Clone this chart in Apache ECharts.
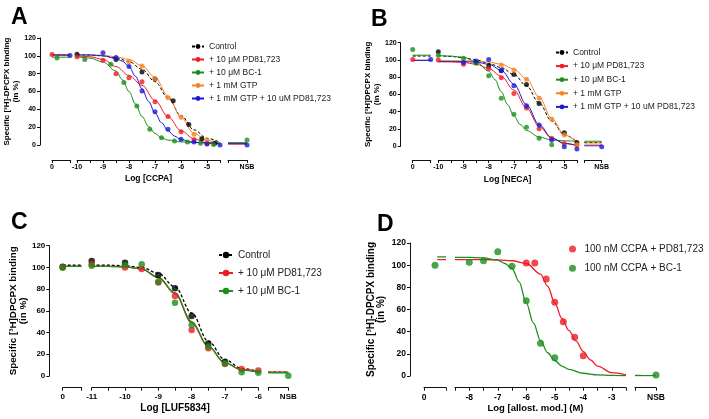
<!DOCTYPE html>
<html><head><meta charset="utf-8">
<script src="https://cdn.jsdelivr.net/npm/echarts@6/dist/echarts.min.js"></script>
<style>html,body{margin:0;padding:0;background:#fff}#c{width:709px;height:419px}</style>
</head><body><div id="c"></div>
<script>
// ---------------- DATA ----------------
// y tick labels (all panels)
const yTicks = [0, 20, 40, 60, 80, 100, 120];

// Panel A : Log [CCPA]
const aNames = ['Control', '+ 10 \u03bcM PD81,723', '+ 10 \u03bcM BC-1', '+ 1 mM GTP', '+ 1 mM GTP + 10 uM PD81,723'];
const aCtlPts = [[-10,101.7],[-8.5,96],[-7.5,82],[-7,74],[-6.3,49.5],[-5.7,23],[-5.2,7],[-4.7,2]];
const aPdPts  = [[-10,99],[-9,95],[-8.5,80],[-8,75.5],[-7.5,71],[-7,48.6],[-6.5,32],[-6,15],[-5.5,6],[-5,1]];
const aBcPts  = [[-9.7,96],[-8.7,90.5],[-8.2,70],[-7.7,43.7],[-7.2,17.6],[-6.75,8],[-6.25,4.5],[-5.75,3.5],[-5.25,2],[-4.75,0.5]];
const aGtpPts = [[-8,93.5],[-7.5,88.6],[-7,74],[-6.5,53],[-6,31],[-5.5,12],[-5,5.6]];
const aGpPts  = [[-9,103.5],[-8.5,98],[-8,88],[-7.5,60.5],[-7,37.4],[-6.5,17.6],[-6,6.5],[-5.5,3.5],[-5,1.5],[-4.5,0]];
const aCtlFit = [[-10,101],[-9.5,100.8],[-9,100],[-8.5,98],[-8,93.5],[-7.5,85],[-7,71],[-6.5,53],[-6,33],[-5.5,17],[-5,7.5],[-4.5,3]];
const aPdFit  = [[-10,100],[-9.5,99],[-9,96],[-8.5,88],[-8,78],[-7.5,67],[-7,50],[-6.5,32],[-6,16],[-5.5,7],[-5,2.5],[-4.5,1]];
const aBcFit  = [[-10,99],[-9.5,97.5],[-9,93],[-8.5,83],[-8.25,73],[-8,60],[-7.75,46],[-7.5,32],[-7.25,21],[-7,13],[-6.75,8],[-6.5,5.5],[-6,3.5],[-5.5,3],[-5,2.8],[-4.5,2.8]];
const aGtpFit = [[-10,101],[-9.5,101],[-9,100.5],[-8.5,99],[-8,96],[-7.5,89],[-7,76],[-6.5,55],[-6,31],[-5.5,13],[-5,5],[-4.5,2]];
const aGpFit  = [[-10,101],[-9.5,101],[-9,100],[-8.5,97],[-8.25,94],[-8,88],[-7.75,77],[-7.5,63],[-7.25,49],[-7,36],[-6.75,25],[-6.5,16],[-6.25,10],[-6,6],[-5.5,3],[-5,2],[-4.5,1.5]];
const aZeroPts = [[], [[0,101.5]], [[0.28,97.5]], [], [[1,100.5]]];
const aZeroLvl = [101, 100.5, 98.5, 101, 101];
const aNsbPts  = [[], [], [[1,5.6]], [], [[1,0]]];
const aNsbLvl  = [2.5, 1, 2.8, 2, 1.5];

// Panel B : Log [NECA]
const bNames = aNames;
const bCtlPts = [[-10,109.5],[-8.5,97],[-8,93],[-7.5,87.5],[-7,83],[-6.5,71.5],[-6,49.5],[-5,15.5],[-4.5,4]];
const bPdPts  = [[-10,100],[-9,95],[-8,90],[-7.5,79.4],[-7,61],[-6.5,44],[-6,20],[-5.5,9],[-5,3],[-4.5,1]];
const bBcPts  = [[-10,105.5],[-9,102],[-8.5,96],[-8,81.7],[-7.5,55.4],[-7,36.8],[-6.5,21.7],[-6,9],[-5.5,1.5]];
const bGtpPts = [[-7.5,94],[-7,88],[-6.5,77.4],[-6,55.4],[-5.5,31.4],[-5,12.8],[-4.5,1.5]];
const bGpPts  = [[-9,97],[-8.5,98.7],[-8,100.6],[-7.5,88],[-7,70],[-6.5,46.8],[-6,24.4],[-5.5,7],[-5,-1],[-4.5,-3.5]];
const bCtlFit = [[-10,105],[-9.5,104],[-9,102.5],[-8.5,100],[-8,96],[-7.5,91],[-7,83],[-6.5,70],[-6,50],[-5.5,29],[-5,13],[-4.5,5]];
const bPdFit  = [[-10,98],[-9.5,97.8],[-9,97],[-8.5,95],[-8,90],[-7.5,81],[-7,65],[-6.5,44],[-6,23],[-5.5,9],[-5,3],[-4.5,1]];
const bBcFit  = [[-10,105],[-9.5,104.5],[-9,103],[-8.5,98],[-8,87],[-7.75,77],[-7.5,63],[-7.25,48],[-7,35],[-6.75,25],[-6.5,18],[-6,10.5],[-5.5,7],[-5,6],[-4.5,5.5]];
const bGtpFit = [[-10,99.5],[-9,99],[-8.5,98.5],[-8,97.5],[-7.5,95],[-7,89.5],[-6.5,78],[-6,57],[-5.5,32],[-5,13],[-4.5,4]];
const bGpFit  = [[-10,98],[-9,98],[-8.5,97.5],[-8,95],[-7.5,88],[-7,72],[-6.5,48],[-6,25],[-5.5,9.5],[-5,3],[-4.5,0.5]];
const bZeroPts = [[], [[0,100.5]], [[0,112]], [], [[1,100.5]]];
const bZeroLvl = [104.5, 99.5, 105.5, 99.5, 99.5];
const bNsbPts  = [[], [], [], [], [[1,-1]]];
const bNsbLvl  = [4, 1, 5.5, 3.5, 0];

// Panel C : Log [LUF5834]
const cNames = ['Control', '+ 10 \u03bcM PD81,723', '+ 10 \u03bcM BC-1'];
const cCtlPts = [[-11,106],[-10,104.4],[-9,93],[-8.5,80.7],[-8,55.2],[-7.5,30],[-7,13.2]];
const cPdPts  = [[-11,103],[-10,100],[-9.5,98.5],[-9,86],[-8.5,73.7],[-8,42.4],[-7.5,25.5],[-7,11],[-6.5,6.5],[-6,5]];
const cBcPts  = [[-11,101.5],[-10,102],[-9.5,103],[-9,86.9],[-8.5,67.5],[-8,47],[-7.5,27],[-7,11.5],[-6.5,3.5],[-6,3]];
const cCtlFit = [[-11,102],[-10.5,102],[-10,101.5],[-9.5,100],[-9,94.5],[-8.5,82],[-8,58],[-7.5,32],[-7,15],[-6.5,7],[-6,4]];
const cPdFit  = [[-11,101],[-10.5,101],[-10,100.5],[-9.5,98.5],[-9,90.5],[-8.5,76],[-8,49],[-7.5,27],[-7,12],[-6.5,6],[-6,4]];
const cBcFit  = [[-11,101],[-10.5,101],[-10,100.5],[-9.5,98.5],[-9,91],[-8.5,76.5],[-8,50],[-7.5,27.5],[-7,12],[-6.5,5.5],[-6,3.5]];
const cZeroPts = [[[0,100.5]], [[0,100]], [[0,100]]];
const cZeroLvl = [102, 101, 101];
const cNsbPts  = [[], [], [[1,0.3]]];
const cNsbLvl  = [3.5, 3.5, 3];

// Panel D : Log [allost. mod.] (M)
const dNames = ['100 nM CCPA + PD81,723', '100 nM CCPA + BC-1'];
const dPdPts  = [[-6,102],[-5.7,102],[-5.3,87.5],[-5,66.5],[-4.7,49],[-4.3,35],[-4,18.3]];
const dBcPts  = [[-8,102.6],[-7.5,104],[-7,112],[-6.5,99],[-6,68],[-5.5,29.5],[-5,16.5]];
const dPdFit  = [[-8.5,105],[-7.5,105],[-7,104.8],[-6.5,104],[-6,101.5],[-5.5,92],[-5.25,81],[-5,66],[-4.75,52],[-4.5,41],[-4.25,31.5],[-4,22],[-3.75,14.5],[-3.5,9],[-3,3],[-2.5,1]];
const dBcFit  = [[-8.5,107],[-8,107],[-7.5,106.5],[-7,104.5],[-6.75,101.5],[-6.5,97],[-6.25,85],[-6,66],[-5.75,48],[-5.5,32],[-5.25,21],[-5,14],[-4.75,9],[-4.5,6],[-4,2.5],[-3.5,1],[-3,0.5],[-2.5,0.3]];
const dZeroPts = [[], [[0.5,100]]];
const dZeroLvl = [105, 107.5];
const dZeroFrom = 0.6;
const dNsbPts  = [[], [[1,0.9]]];
const dNsbLvl  = [0.5, 0.3];
const dNsbTo   = [0.3, 1];

// ---------------- STYLE / LAYOUT ----------------
const FONT = '"Liberation Sans", Arial, sans-serif';
const C_BLACK = '#000000', C_RED = '#ee1c24', C_GREEN = '#1b8e1b', C_ORANGE = '#f7821f', C_BLUE = '#1a1ad8';

const option = {
  animation: false,
  backgroundColor: '#ffffff',
  title: [], legend: [], grid: [], xAxis: [], yAxis: [], series: []
};

function axLine() { return {show: true, onZero: false, lineStyle: {color: '#111', width: 1, type: 'solid'}}; }
function axTick() { return {show: true, inside: false, length: 3, lineStyle: {color: '#111', width: 1, type: 'solid'}}; }

function addPanel(p) {
  const gi = option.grid.length;
  const segs = [p.seg0, p.segM, p.segN];
  segs.forEach(s => option.grid.push({left: s[0], width: s[1] - s[0], top: p.top, height: p.bottom - p.top}));
  for (let k = 0; k < 3; k++) {
    option.yAxis.push({
      type: 'value', gridIndex: gi + k, min: yTicks[0], max: yTicks[yTicks.length - 1], interval: yTicks[1] - yTicks[0],
      show: k === 0, position: 'left', offset: k === 0 ? p.seg0[0] - p.yAxisX : 0,
      axisLine: axLine(), axisTick: axTick(), splitLine: {show: false},
      axisLabel: {fontSize: p.tickFs, fontWeight: 'bold', color: '#000', margin: p.yLabelMargin, fontFamily: FONT},
      name: k === 0 ? p.yName : '', nameLocation: 'middle', nameRotate: 90, nameGap: p.yNameGap,
      nameTextStyle: {fontSize: p.yNameFs, fontWeight: 'bold', color: '#000', fontFamily: FONT, lineHeight: p.yNameLh}
    });
  }
  const xOff = p.xAxisY - p.bottom;
  const lbl = () => ({fontSize: p.tickFs, fontWeight: 'bold', color: '#000', margin: p.xLabelMargin, fontFamily: FONT, showMinLabel: true, showMaxLabel: true});
  option.xAxis.push({type: 'value', position: 'bottom', offset: xOff, axisLine: axLine(), axisTick: axTick(), splitLine: {show: false},
    gridIndex: gi, min: 0, max: 1, interval: 1,
    axisLabel: Object.assign(lbl(), {formatter: v => v === 0 ? '0' : ''})});
  option.xAxis.push({type: 'value', position: 'bottom', offset: xOff, axisLine: axLine(), axisTick: axTick(), splitLine: {show: false},
    gridIndex: gi + 1, min: p.xMin, max: p.xMax, interval: 0.5,
    axisLabel: Object.assign(lbl(), {formatter: v => Number.isInteger(v) ? String(v) : ''}),
    name: p.xName, nameLocation: 'middle', nameGap: p.xNameGap,
    nameTextStyle: {fontSize: p.xNameFs, fontWeight: 'bold', color: '#000', fontFamily: FONT, padding: p.xNamePad || 0}});
  option.xAxis.push({type: 'value', position: 'bottom', offset: xOff, axisLine: axLine(), axisTick: axTick(), splitLine: {show: false},
    gridIndex: gi + 2, min: 0, max: 1, interval: 1,
    axisLabel: Object.assign(lbl(), {formatter: v => v === 1 ? 'NSB' : ''})});

  option.title.push({text: p.letter, left: p.letterPos[0], top: p.letterPos[1], padding: 0,
    textStyle: {fontSize: 23, fontWeight: 'bold', color: '#000', fontFamily: FONT}});
  option.legend.push({orient: 'vertical', left: p.legend.left, top: p.legend.top, padding: 0,
    itemWidth: p.legend.w, itemHeight: p.legend.h, itemGap: p.legend.gap,
    textStyle: {fontSize: p.legend.fs, color: '#222', fontFamily: FONT, lineHeight: p.legend.lh},
    data: p.names, selectedMode: false});

  const lineW = p.lineW, sym = p.symSize;
  p.curves.forEach((c, i) => {
    const name = p.names[i];
    const lineStyle = () => ({color: c.color, width: lineW, type: c.dashed ? [3, 2] : 'solid'});
    if (p.dotLegend) {
      option.series.push({type: 'scatter', name: name, xAxisIndex: gi + 1, yAxisIndex: gi + 1, data: c.pts,
        symbol: 'circle', symbolSize: sym, itemStyle: {color: c.color}, z: 4, clip: false});
    }
    option.series.push({type: 'line', name: name, xAxisIndex: gi + 1, yAxisIndex: gi + 1, data: c.fit,
      smooth: 0.35, smoothMonotone: 'x', showSymbol: false, symbol: 'circle', symbolSize: sym,
      itemStyle: {color: c.color}, lineStyle: lineStyle(), z: 2 + i * 0.01, silent: true});
    if (!p.dotLegend) {
      option.series.push({type: 'scatter', name: name, xAxisIndex: gi + 1, yAxisIndex: gi + 1, data: c.pts,
        symbol: 'circle', symbolSize: sym, itemStyle: {color: c.color}, z: 4 + i * 0.01, clip: false});
    }
    const z0 = c.zeroFrom !== undefined ? c.zeroFrom : 0;
    option.series.push({type: 'line', name: name, xAxisIndex: gi, yAxisIndex: gi,
      data: [[z0, c.zeroLvl], [1, c.zeroLvl]], showSymbol: false, lineStyle: lineStyle(), itemStyle: {color: c.color}, z: 2 + i * 0.01});
    if (c.zeroPts.length) option.series.push({type: 'scatter', name: name, xAxisIndex: gi, yAxisIndex: gi, data: c.zeroPts,
      symbol: 'circle', symbolSize: sym, itemStyle: {color: c.color}, z: 4 + i * 0.01, clip: false});
    const nTo = c.nsbTo !== undefined ? c.nsbTo : 1;
    option.series.push({type: 'line', name: name, xAxisIndex: gi + 2, yAxisIndex: gi + 2,
      data: [[0, c.nsbLvl], [nTo, c.nsbLvl]], showSymbol: false, lineStyle: lineStyle(), itemStyle: {color: c.color}, z: 2 + i * 0.01});
    if (c.nsbPts.length) option.series.push({type: 'scatter', name: name, xAxisIndex: gi + 2, yAxisIndex: gi + 2, data: c.nsbPts,
      symbol: 'circle', symbolSize: sym, itemStyle: {color: c.color}, z: 4 + i * 0.01, clip: false});
  });
}

function mk(color, pts, fit, zp, zl, np, nl, dashed) {
  return {color: color, pts: pts, fit: fit, zeroPts: zp, zeroLvl: zl, nsbPts: np, nsbLvl: nl, dashed: !!dashed};
}

addPanel({
  letter: 'A', letterPos: [11, 6],
  top: 38, bottom: 145, yAxisX: 40, seg0: [52, 70], segM: [77, 220], segN: [228, 247], xAxisY: 160,
  xMin: -10, xMax: -4.5, tickFs: 7, yLabelMargin: 4, xLabelMargin: 4,
  yName: 'Specific [\u00b3H]-DPCPX binding\n(in %)', yNameFs: 8, yNameLh: 9, yNameGap: 17,
  xName: 'Log [CCPA]', xNameFs: 8.5, xNameGap: 14,
  legend: {left: 191, top: 41, w: 12, h: 6, gap: 2, fs: 8.5, lh: 11},
  names: aNames, lineW: 1, symSize: 5,
  curves: [
    mk(C_BLACK, aCtlPts, aCtlFit, aZeroPts[0], aZeroLvl[0], aNsbPts[0], aNsbLvl[0], true),
    mk(C_RED, aPdPts, aPdFit, aZeroPts[1], aZeroLvl[1], aNsbPts[1], aNsbLvl[1]),
    mk(C_GREEN, aBcPts, aBcFit, aZeroPts[2], aZeroLvl[2], aNsbPts[2], aNsbLvl[2]),
    mk(C_ORANGE, aGtpPts, aGtpFit, aZeroPts[3], aZeroLvl[3], aNsbPts[3], aNsbLvl[3]),
    mk(C_BLUE, aGpPts, aGpFit, aZeroPts[4], aZeroLvl[4], aNsbPts[4], aNsbLvl[4])
  ]
});

addPanel({
  letter: 'B', letterPos: [371, 8],
  top: 42.7, bottom: 146, yAxisX: 400.7, seg0: [412.7, 430.7], segM: [438.3, 576.9], segN: [584.3, 601.7], xAxisY: 160,
  xMin: -10, xMax: -4.5, tickFs: 7, yLabelMargin: 4, xLabelMargin: 4,
  yName: 'Specific [\u00b3H]DPCPX binding\n(in %)', yNameFs: 8, yNameLh: 9, yNameGap: 18,
  xName: 'Log [NECA]', xNameFs: 8.5, xNameGap: 15,
  legend: {left: 555, top: 47, w: 12, h: 6, gap: 2.6, fs: 8.5, lh: 11},
  names: bNames, lineW: 1, symSize: 5,
  curves: [
    mk(C_BLACK, bCtlPts, bCtlFit, bZeroPts[0], bZeroLvl[0], bNsbPts[0], bNsbLvl[0], true),
    mk(C_RED, bPdPts, bPdFit, bZeroPts[1], bZeroLvl[1], bNsbPts[1], bNsbLvl[1]),
    mk(C_GREEN, bBcPts, bBcFit, bZeroPts[2], bZeroLvl[2], bNsbPts[2], bNsbLvl[2]),
    mk(C_ORANGE, bGtpPts, bGtpFit, bZeroPts[3], bZeroLvl[3], bNsbPts[3], bNsbLvl[3]),
    mk(C_BLUE, bGpPts, bGpFit, bZeroPts[4], bZeroLvl[4], bNsbPts[4], bNsbLvl[4])
  ]
});

addPanel({
  letter: 'C', letterPos: [11, 211],
  top: 245.7, bottom: 376, yAxisX: 49.3, seg0: [62.7, 81.7], segM: [91.7, 258.3], segN: [268.3, 288.3], xAxisY: 387.7,
  xMin: -11, xMax: -6, tickFs: 8, yLabelMargin: 4, xLabelMargin: 5,
  yName: 'Specific [\u00b3H]DPCPX binding\n(in %)', yNameFs: 9.8, yNameLh: 10, yNameGap: 21,
  xName: 'Log [LUF5834]', xNameFs: 10, xNameGap: 16,
  legend: {left: 218, top: 249, w: 14, h: 8, gap: 6, fs: 10, lh: 12},
  names: cNames, lineW: 1.3, symSize: 6.5,
  curves: [
    mk(C_BLACK, cCtlPts, cCtlFit, cZeroPts[0], cZeroLvl[0], cNsbPts[0], cNsbLvl[0], true),
    mk(C_RED, cPdPts, cPdFit, cZeroPts[1], cZeroLvl[1], cNsbPts[1], cNsbLvl[1]),
    mk(C_GREEN, cBcPts, cBcFit, cZeroPts[2], cZeroLvl[2], cNsbPts[2], cNsbLvl[2])
  ]
});

const dCurves = [
  mk(C_RED, dPdPts, dPdFit, dZeroPts[0], dZeroLvl[0], dNsbPts[0], dNsbLvl[0]),
  mk(C_GREEN, dBcPts, dBcFit, dZeroPts[1], dZeroLvl[1], dNsbPts[1], dNsbLvl[1])
];
dCurves.forEach((c, i) => { c.zeroFrom = dZeroFrom; c.nsbTo = dNsbTo[i]; });
addPanel({
  letter: 'D', letterPos: [377, 213],
  top: 243, bottom: 376, yAxisX: 410, seg0: [424, 446], segM: [455, 626], segN: [635, 656], xAxisY: 387.7,
  xMin: -8.5, xMax: -2.5, tickFs: 8.5, yLabelMargin: 4, xLabelMargin: 5,
  yName: 'Specific [\u00b3H]-DPCPX binding\n(in %)', yNameFs: 10, yNameLh: 10, yNameGap: 24,
  xName: 'Log [allost. mod.] (M)', xNameFs: 9.5, xNameGap: 16, xNamePad: [0, 10, 0, 0],
  legend: {left: 569, top: 242.5, w: 14, h: 7, gap: 6.3, fs: 10, lh: 13},
  names: dNames, lineW: 1.3, symSize: 7, dotLegend: true,
  curves: dCurves
});

const chart = echarts.init(document.getElementById('c'), null, {renderer: 'canvas'});
chart.setOption(option);
</script>
</body></html>
